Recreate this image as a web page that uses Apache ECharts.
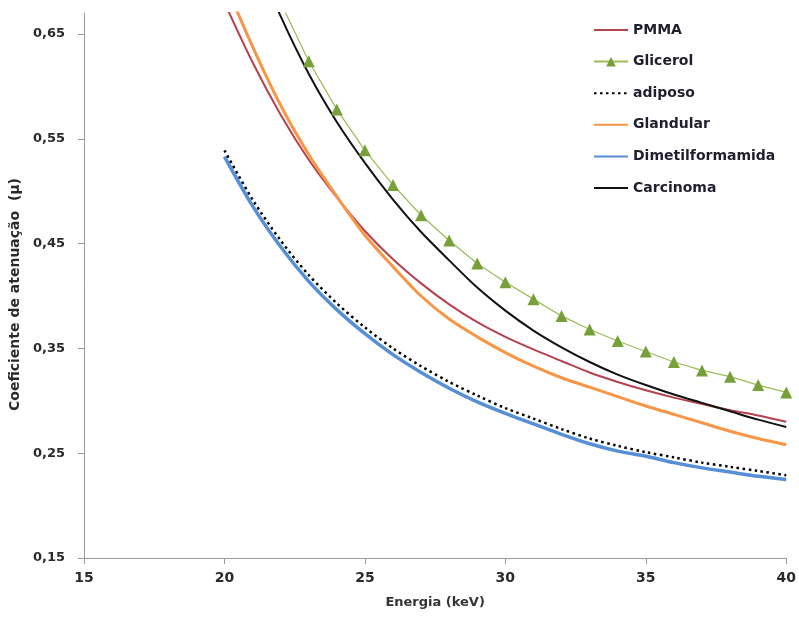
<!DOCTYPE html>
<html>
<head>
<meta charset="utf-8">
<script src="https://cdn.jsdelivr.net/npm/echarts@6/dist/echarts.min.js"></script>
<style>
  html, body { margin: 0; padding: 0; background: #fff; }
  #main { width: 799px; height: 620px; }
</style>
</head>
<body>
<div id="main"></div>
<script>
// energia (keV)
var energias = [20, 21, 22, 23, 24, 25, 26, 27, 28, 29, 30, 31, 32, 33, 34, 35, 36, 37, 38, 39, 40];

var pmma      = [0.680, 0.623, 0.573, 0.530, 0.494, 0.462, 0.435, 0.412, 0.392, 0.375, 0.361, 0.349, 0.338, 0.327, 0.318, 0.310, 0.303, 0.297, 0.291, 0.286, 0.280];
var glicerol  = [null, null, 0.680, 0.624, 0.578, 0.539, 0.506, 0.477, 0.453, 0.431, 0.413, 0.397, 0.381, 0.368, 0.357, 0.347, 0.337, 0.329, 0.323, 0.315, 0.308];
var adiposo   = [0.539, 0.492, 0.453, 0.420, 0.393, 0.370, 0.350, 0.333, 0.318, 0.305, 0.293, 0.283, 0.273, 0.264, 0.257, 0.251, 0.246, 0.241, 0.237, 0.233, 0.229];
var glandular = [0.700, 0.638, 0.582, 0.535, 0.495, 0.458, 0.428, 0.400, 0.378, 0.361, 0.346, 0.333, 0.322, 0.313, 0.304, 0.295, 0.287, 0.279, 0.271, 0.264, 0.258];
var dimetil   = [0.533, 0.486, 0.447, 0.414, 0.387, 0.364, 0.344, 0.327, 0.312, 0.299, 0.288, 0.278, 0.268, 0.259, 0.252, 0.247, 0.241, 0.236, 0.232, 0.228, 0.225];
var carcinoma = [null, 0.730, 0.667, 0.612, 0.566, 0.527, 0.492, 0.461, 0.434, 0.408, 0.386, 0.367, 0.351, 0.337, 0.325, 0.315, 0.306, 0.298, 0.290, 0.282, 0.275];

var yTicks = [0.15, 0.25, 0.35, 0.45, 0.55, 0.65];

function pares(vals) {
    return energias.map(function (e, i) { return [e, vals[i]]; });
}

var fonte = '"DejaVu Sans", sans-serif';
var myChart = echarts.init(document.getElementById('main'));

// sem marcador na legenda para as linhas simples
function semMarcador(nome) {
    return { name: nome, itemStyle: { opacity: 0 } };
}

option = {
    animation: false,
    backgroundColor: '#fff',
    grid: {
        left: 84,
        right: 11,
        top: 13,
        bottom: 62
    },
    legend: {
        orient: 'vertical',
        left: 588,
        top: 18,
        itemWidth: 34,
        itemHeight: 12,
        itemGap: 17.6,
        textStyle: {
            fontFamily: fonte,
            fontWeight: 'bold',
            fontSize: 14,
            color: '#1f1f2f'
        },
        data: [semMarcador('PMMA'), 'Glicerol', semMarcador('adiposo'), semMarcador('Glandular'),
               semMarcador('Dimetilformamida'), semMarcador('Carcinoma')]
    },
    xAxis: {
        type: 'value',
        min: 15,
        max: 40,
        interval: 5,
        name: 'Energia (keV)',
        nameLocation: 'middle',
        nameGap: 38,
        nameTextStyle: { fontFamily: fonte, fontWeight: 'bold', fontSize: 13, color: '#333' },
        splitLine: { show: false },
        axisLine: { lineStyle: { color: '#9a9a9a', width: 1 } },
        axisTick: { length: 6, lineStyle: { color: '#9a9a9a' } },
        axisLabel: { fontFamily: fonte, fontWeight: 'bold', fontSize: 14, color: '#2a2a2a', margin: 13 }
    },
    yAxis: {
        type: 'value',
        min: 0.15,
        max: 0.67,
        name: 'Coeficiente de atenuação  (µ)',
        nameLocation: 'middle',
        nameGap: 56,
        nameTextStyle: { fontFamily: fonte, fontWeight: 'bold', fontSize: 14, color: '#2a2a2a', padding: [0, 18, 0, 0] },
        splitLine: { show: false },
        axisLine: { show: true, lineStyle: { color: '#9a9a9a', width: 1 } },
        axisTick: { show: true, length: 6, customValues: yTicks, lineStyle: { color: '#9a9a9a' } },
        axisLabel: {
            fontFamily: fonte, fontWeight: 'bold', fontSize: 13, color: '#2a2a2a', margin: 19,
            customValues: yTicks,
            formatter: function (v) { return v.toFixed(2).replace('.', ','); }
        }
    },
    series: [
        {
            name: 'PMMA', type: 'line', smooth: 0.3, symbol: 'none',
            lineStyle: { color: '#b5424c', width: 2 }, itemStyle: { color: '#b5424c' },
            data: pares(pmma)
        },
        {
            name: 'Glicerol', type: 'line', symbol: 'triangle', symbolSize: 12,
            lineStyle: { color: '#9bbb59', width: 1.2 }, itemStyle: { color: '#77a03a' },
            data: pares(glicerol)
        },
        {
            name: 'adiposo', type: 'line', smooth: 0.3, symbol: 'none', z: 5,
            lineStyle: { color: '#000', width: 2.5, type: [2.5, 3.5] }, itemStyle: { color: '#000' },
            data: pares(adiposo)
        },
        {
            name: 'Glandular', type: 'line', smooth: 0.3, symbol: 'none',
            lineStyle: { color: '#f79646', width: 3 }, itemStyle: { color: '#f79646' },
            data: pares(glandular)
        },
        {
            name: 'Dimetilformamida', type: 'line', smooth: 0.3, symbol: 'none',
            lineStyle: { color: '#568fd6', width: 3.5 }, itemStyle: { color: '#568fd6' },
            data: pares(dimetil)
        },
        {
            name: 'Carcinoma', type: 'line', smooth: 0.3, symbol: 'none',
            lineStyle: { color: '#111', width: 2 }, itemStyle: { color: '#111' },
            data: pares(carcinoma)
        }
    ]
};

myChart.setOption(option);
</script>
</body>
</html>
